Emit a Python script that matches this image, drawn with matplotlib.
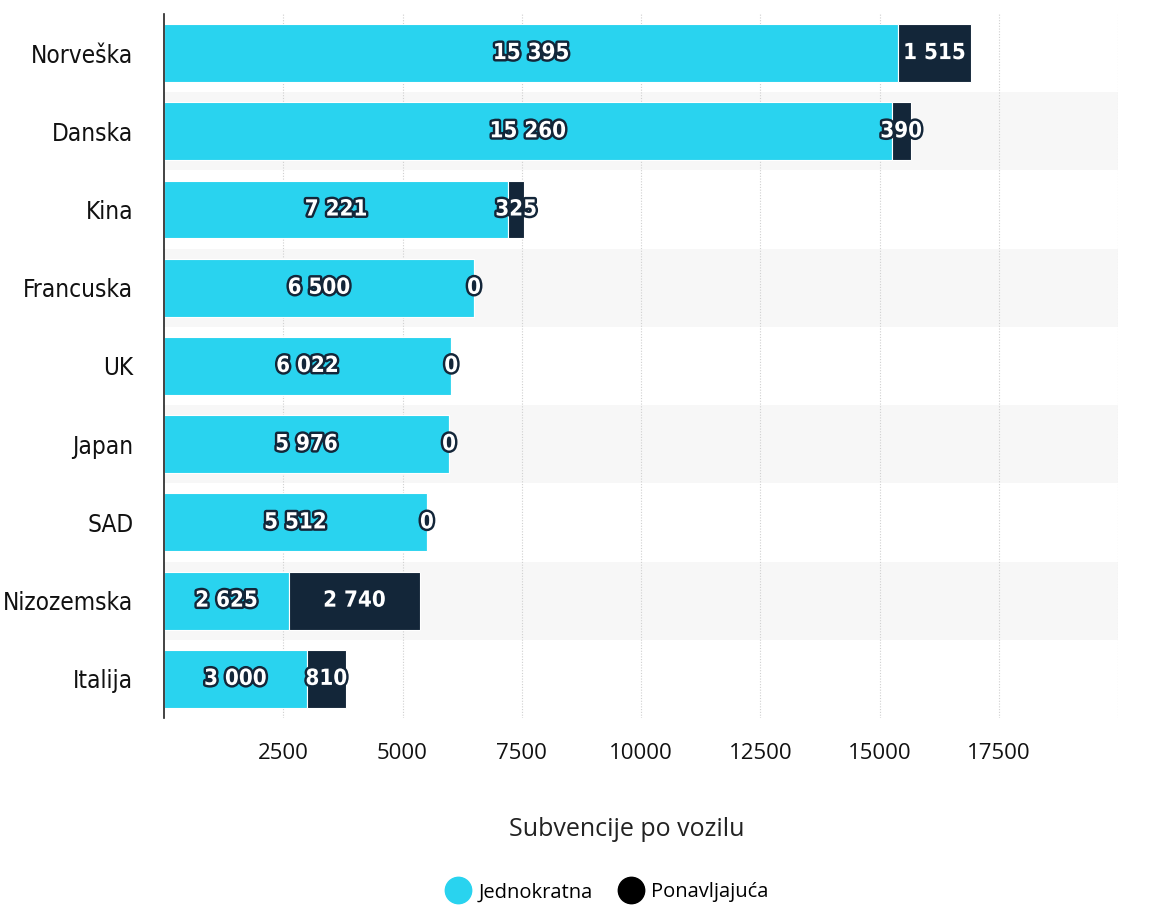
import numpy as np
import matplotlib.pyplot as plt
import matplotlib.patheffects as pe
from matplotlib.lines import Line2D

countries = ['Norveška', 'Danska', 'Kina', 'Francuska', 'UK', 'Japan', 'SAD', 'Nizozemska', 'Italija']
jednokratna = [15395, 15260, 7221, 6500, 6022, 5976, 5512, 2625, 3000]
ponavljajuca = [1515, 390, 325, 0, 0, 0, 0, 2740, 810]
xticks = [2500, 5000, 7500, 10000, 12500, 15000, 17500]

cyan = '#29d3ef'
navy = '#132639'

def fmt(v):
    return '{:,}'.format(v).replace(',', ' ')

fig = plt.figure(figsize=(11.65, 9.07), dpi=100)
ax = fig.add_axes([0.1408, 0.2084, 0.8189, 0.7762])

y = np.arange(len(countries))
n = len(countries)

# alternating background bands
for i in range(n):
    if i % 2 == 1:
        ax.axhspan(i - 0.5, i + 0.5, color='#f7f7f7', zorder=0, lw=0)

for gx in range(2500, 20001, 2500):
    ax.axvline(gx, color='#d0d0d0', lw=0.8, ls=(0, (1, 1.5)), zorder=0.5)

ax.barh(y, jednokratna, height=0.74, color=cyan, edgecolor='white', linewidth=0.8, zorder=2)
ax.barh(y, ponavljajuca, left=jednokratna, height=0.74, color=navy, edgecolor='white', linewidth=0.8, zorder=2)

stroke = [pe.withStroke(linewidth=3.5, foreground=navy)]
for i in range(n):
    ax.text(jednokratna[i] / 2, y[i], fmt(jednokratna[i]), ha='center', va='center',
            color='white', fontsize=16, fontweight='bold', family='DejaVu Sans', stretch='condensed',
            path_effects=stroke, zorder=4)
    ax.text(jednokratna[i] + ponavljajuca[i] / 2, y[i], fmt(ponavljajuca[i]), ha='center', va='center',
            color='white', fontsize=16, fontweight='bold', family='DejaVu Sans', stretch='condensed',
            path_effects=stroke, zorder=4)

ax.set_xlim(0, 20000)
ax.set_ylim(n - 0.5, -0.5)
ax.set_yticks(y)
ax.set_yticklabels(countries, fontsize=17.5, family='DejaVu Sans', stretch='condensed', color='#111111')
ax.set_xticks(xticks)
ax.set_xticklabels([str(t) for t in xticks], fontsize=16, family='Open Sans', color='#111111')
ax.tick_params(axis='both', length=0)
ax.tick_params(axis='x', pad=18)
ax.tick_params(axis='y', pad=22)

for s in ['top', 'right', 'bottom']:
    ax.spines[s].set_visible(False)
ax.spines['left'].set_color('#222222')
ax.spines['left'].set_linewidth(1.2)

ax.set_xlabel('Subvencije po vozilu', fontsize=18, family='Open Sans', color='#222222')
ax.xaxis.set_label_coords(0.485, -0.14)

handles = [Line2D([], [], marker='o', ls='', color=cyan, markersize=19),
           Line2D([], [], marker='o', ls='', color='black', markersize=19)]
fig.legend(handles, ['Jednokratna', 'Ponavljajuća'], loc='center', bbox_to_anchor=(0.518, 0.016),
           ncol=2, frameon=False, handletextpad=0.0, columnspacing=0.9,
           prop={'family': 'Open Sans', 'size': 14.5})

fig.savefig('out.png', dpi=100)
